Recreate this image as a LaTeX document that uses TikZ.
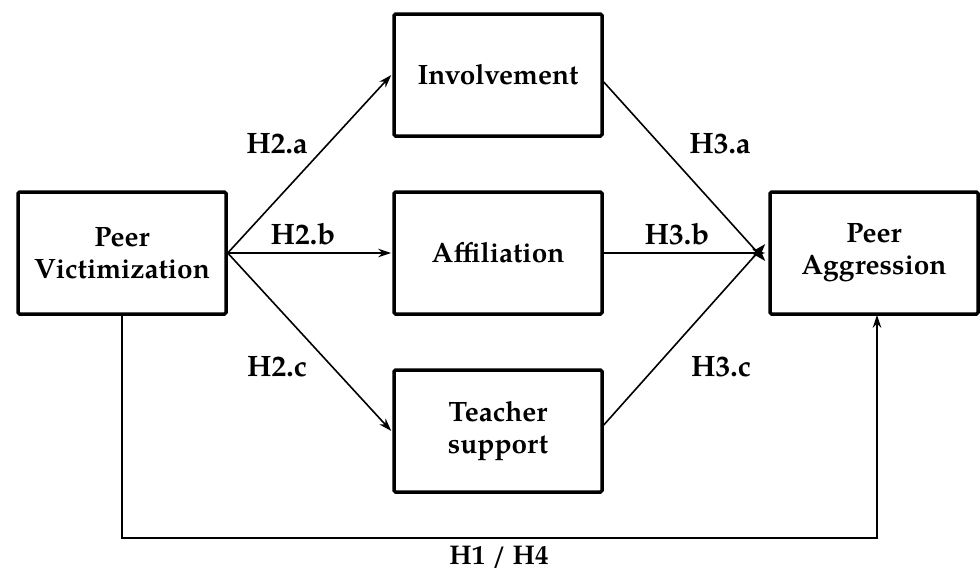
\documentclass[tikz,border=0pt]{standalone}
\usepackage{fontspec}
\setmainfont{TeX Gyre Pagella}
\usetikzlibrary{arrows.meta}
\begin{document}
\begin{tikzpicture}[x=1pt,y=-1pt,
  box/.style={draw, line width=3.5pt, rounded corners=1.5pt, minimum width=208pt, minimum height=122pt,
    align=center, font=\fontsize{28}{32}\selectfont\bfseries, inner sep=0pt},
  conn/.style={line width=1.6pt, -{Stealth[length=13pt,width=8.5pt,inset=4pt]}},
  lab/.style={font=\fontsize{29.5}{33}\selectfont\bfseries, inner sep=0pt}]
\useasboundingbox (0,0) rectangle (980,574);
\node[box] (pv) at (122,253) {Peer\\Victimization};
\node[box] (inv) at (498,75) {Involvement};
\node[box] (aff) at (498,253) {Affiliation};
\node[box] (ts) at (498,431) {Teacher\\support};
\node[box] (pa) at (874,253) {Peer\\Aggression};
\draw[conn] (pv.east) -- ([xshift=-1pt]inv.west);
\draw[conn] (pv.east) -- ([xshift=-1pt]aff.west);
\draw[conn] (pv.east) -- ([xshift=-1pt]ts.west);
\draw[conn] ([yshift=-7pt]inv.east) -- ([xshift=-3pt,yshift=-8pt]pa.west);
\draw[conn] (aff.east) -- ([xshift=-3pt]pa.west);
\draw[conn] ([yshift=6pt]ts.east) -- ([xshift=-3pt,yshift=9pt]pa.west);
\coordinate (c1) at (122,538);
\coordinate (c2) at (877,538);
\draw[conn] (pv.south) -- (c1) -- (c2) -- ([yshift=1pt]pa.south -| c2);
\node[lab] (h2a) at (277,144) {H2.a};
\node[lab] (h2b) at (303,234) {H2.b};
\node[lab] (h2c) at (277,367) {H2.c};
\node[lab] (h3a) at (720,144) {H3.a};
\node[lab] (h3b) at (677,234) {H3.b};
\node[lab] (h3c) at (721,367) {H3.c};
\node[lab, font=\fontsize{27}{30}\selectfont\bfseries] (h14) at (499,557) {H1 / H4};
\end{tikzpicture}
\end{document}
